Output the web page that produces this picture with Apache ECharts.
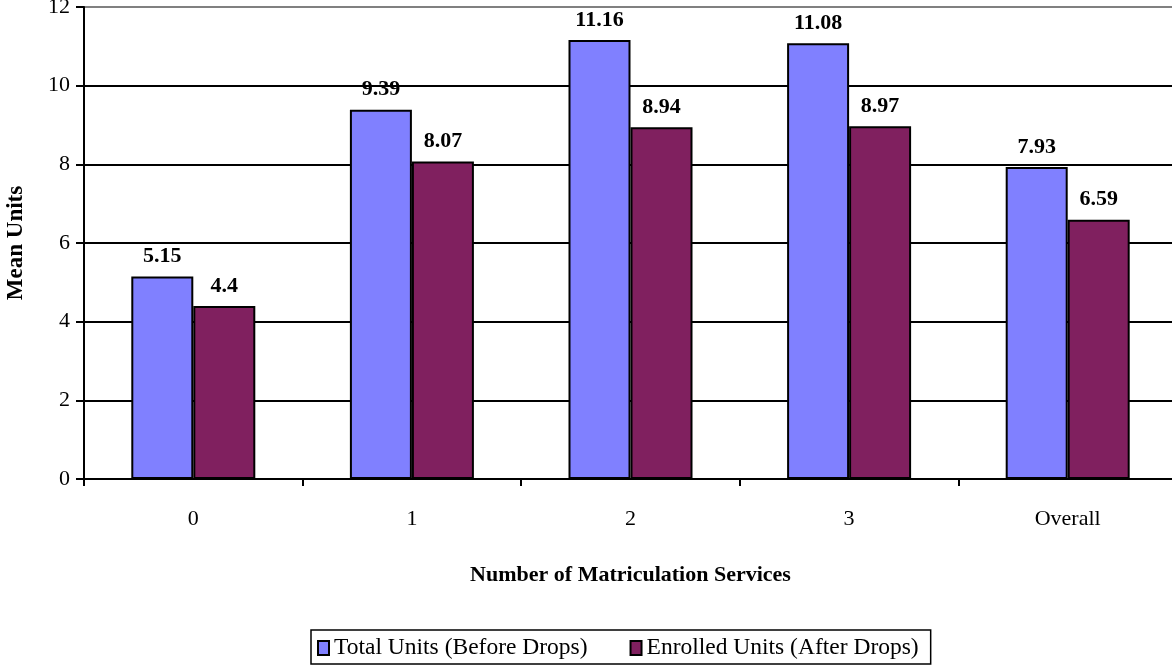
<!DOCTYPE html>
<html>
<head>
<meta charset="utf-8">
<script src="https://cdn.jsdelivr.net/npm/echarts@6/dist/echarts.min.js"></script>
<style>
  html, body { margin: 0; padding: 0; background: #fff; }
  #chart { width: 1172px; height: 666px; }
</style>
</head>
<body>
<div id="chart"></div>
<script>
// Mean units by number of matriculation services
const categories = ['0', '1', '2', '3', 'Overall'];
const totalUnits = [5.15, 9.39, 11.16, 11.08, 7.93];
const enrolledUnits = [4.4, 8.07, 8.94, 8.97, 6.59];
const seriesNames = ['Total Units (Before Drops)', 'Enrolled Units (After Drops)'];
const yTicks = { min: 0, max: 12, interval: 2 };

const FONT = '"Liberation Serif", "Times New Roman", serif';
const FS = 22;

const chart = echarts.init(document.getElementById('chart'));

const labelStyle = {
  show: true,
  position: 'top',
  distance: 9,
  fontFamily: FONT,
  fontSize: FS,
  fontWeight: 'bold',
  color: '#000'
};

chart.setOption({
  animation: false,
  textStyle: { fontFamily: FONT },
  grid: {
    left: 84, top: 7, width: 1093, height: 472,
    containLabel: false,
    outerBoundsMode: 'none'
  },
  legend: {
    bottom: 2,
    left: 311,
    itemWidth: 11,
    itemHeight: 14,
    itemGap: 42,
    padding: [6, 12, 4, 6],
    borderColor: '#000',
    borderWidth: 1.5,
    icon: 'rect',
    textStyle: { fontFamily: FONT, fontSize: 23.5, color: '#000' },
    data: seriesNames
  },
  xAxis: {
    type: 'category',
    data: categories,
    name: 'Number of Matriculation Services',
    nameLocation: 'middle',
    nameGap: 85,
    nameTextStyle: { fontFamily: FONT, fontSize: FS, fontWeight: 'bold', color: '#000' },
    axisLine: { lineStyle: { color: '#000', width: 2 } },
    axisTick: { show: true, length: 7, lineStyle: { color: '#000', width: 2 } },
    axisLabel: { fontFamily: FONT, fontSize: FS, color: '#000', margin: 29 }
  },
  yAxis: {
    type: 'value',
    min: yTicks.min,
    max: yTicks.max,
    interval: yTicks.interval,
    name: 'Mean Units',
    nameLocation: 'middle',
    nameGap: 56,
    nameRotate: 90,
    nameTextStyle: { fontFamily: FONT, fontSize: 23, fontWeight: 'bold', color: '#000' },
    axisLine: { show: true, lineStyle: { color: '#000', width: 2 } },
    axisTick: { show: true, length: 8, lineStyle: { color: '#000', width: 2 } },
    axisLabel: { fontFamily: FONT, fontSize: FS, color: '#000', margin: 14 },
    splitLine: {
      show: true,
      lineStyle: {
        width: 2,
        color: ['#000', '#000', '#000', '#000', '#000', '#000', '#808080']
      }
    }
  },
  series: [
    {
      name: seriesNames[0],
      type: 'bar',
      data: totalUnits,
      barWidth: 62,
      barGap: '0%',
      itemStyle: { color: '#8080ff', borderColor: '#000', borderWidth: 2 },
      label: labelStyle
    },
    {
      name: seriesNames[1],
      type: 'bar',
      data: enrolledUnits,
      barWidth: 62,
      barGap: '0%',
      itemStyle: { color: '#80205f', borderColor: '#000', borderWidth: 2 },
      label: labelStyle
    }
  ]
});
</script>
</body>
</html>
